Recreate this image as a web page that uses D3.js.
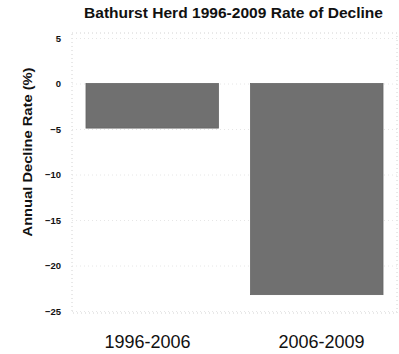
<!DOCTYPE html>
<html>
<head>
<meta charset="utf-8">
<script src="https://cdn.jsdelivr.net/npm/d3@7"></script>
<style>
  html, body { margin: 0; padding: 0; background: #fff; }
  svg { display: block; font-family: Arial, "Liberation Sans", sans-serif; }
</style>
</head>
<body>
<svg id="chart" width="399" height="354"></svg>
<script>
// Bathurst herd: annual rate of decline per period
const periods = ["1996-2006", "2006-2009"];
const declineRates = [-4.9, -23.2];
const yTicks = [5, 0, -5, -10, -15, -20, -25];

const titleText = "Bathurst Herd 1996-2009 Rate of Decline";
const yLabelText = "Annual Decline Rate (%)";

const svg = d3.select("#chart");
const plot = { left: 72, right: 397, top: 33, bottom: 313 };

const y = d3.scaleLinear().domain([-25, 5]).range([311, 38]);
const x = d3.scaleBand().domain(periods)
  .range([plot.left, plot.right])
  .paddingInner(0.195).paddingOuter(0.085);
const xLabel = d3.scalePoint().domain(periods)
  .range([plot.left, plot.right]).padding(0.434);

// plot frame
svg.append("rect")
  .attr("x", plot.left).attr("y", plot.top)
  .attr("width", plot.right - plot.left).attr("height", plot.bottom - plot.top)
  .attr("fill", "none").attr("stroke", "#d2d2d2")
  .attr("stroke-width", 1).attr("stroke-dasharray", "1,3");

// horizontal grid lines
svg.append("g").selectAll("line").data(yTicks).join("line")
  .attr("x1", plot.left).attr("x2", plot.right)
  .attr("y1", d => y(d) + 0.5).attr("y2", d => y(d) + 0.5)
  .attr("stroke", "#e6e6e6").attr("stroke-dasharray", "1,3");

// y axis tick labels
const yAxis = d3.axisLeft(y).tickValues(yTicks).tickSize(0).tickPadding(0)
  .tickFormat(d3.format("d"));
svg.append("g")
  .attr("transform", `translate(${plot.left - 11},0)`)
  .call(yAxis)
  .call(g => g.select(".domain").remove())
  .call(g => g.selectAll("text")
    .attr("font-family", "Arial, 'Liberation Sans', sans-serif")
    .attr("font-size", 9.5).attr("font-weight", "bold").attr("fill", "#111"));

// bars
svg.append("g").selectAll("rect").data(declineRates).join("rect")
  .attr("x", (d, i) => x(periods[i]))
  .attr("width", x.bandwidth())
  .attr("y", d => y(Math.max(0, d)))
  .attr("height", d => Math.abs(y(d) - y(0)))
  .attr("fill", "#707070")
  .attr("stroke", "#666").attr("stroke-width", 0.8);

// category labels
svg.append("g").selectAll("text").data(periods).join("text")
  .attr("x", d => xLabel(d)).attr("y", 348)
  .attr("text-anchor", "middle")
  .attr("font-size", 18).attr("fill", "#111")
  .text(d => d);

// title
svg.append("text")
  .attr("x", 233.5).attr("y", 18)
  .attr("text-anchor", "middle")
  .attr("font-size", 14).attr("font-weight", "bold").attr("fill", "#111")
  .attr("textLength", 299).attr("lengthAdjust", "spacingAndGlyphs")
  .text(titleText);

// y axis title
svg.append("text")
  .attr("transform", "translate(32,152) rotate(-90)")
  .attr("text-anchor", "middle")
  .attr("font-size", 13).attr("font-weight", "bold").attr("fill", "#111")
  .attr("textLength", 169).attr("lengthAdjust", "spacingAndGlyphs")
  .text(yLabelText);
</script>
</body>
</html>
